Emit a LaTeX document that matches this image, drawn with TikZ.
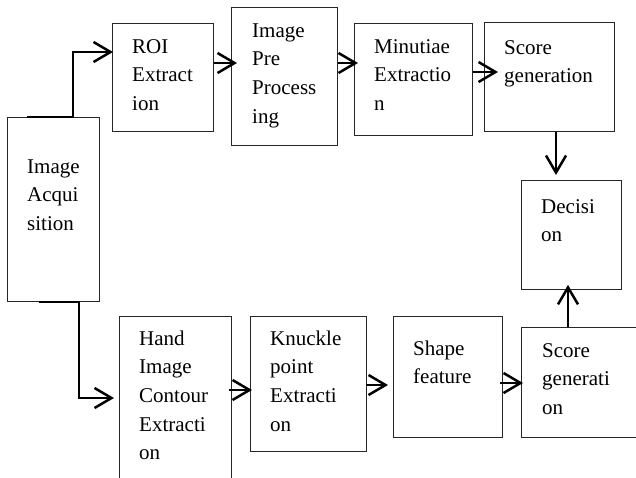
\documentclass[tikz,border=0pt]{standalone}
\usepackage{fontspec}
\setmainfont{Liberation Serif}
\usetikzlibrary{arrows.meta,calc}
\newcommand\boxtext[1]{\begin{tabular}[t]{@{}l@{}}#1\end{tabular}}
\begin{document}
\begin{tikzpicture}[x=1pt,y=-1pt,
  bx/.style={draw=black!85, line width=0.9pt, inner sep=0pt, anchor=north west},
  txt/.style={inner sep=0pt, anchor=base west, font=\fontsize{21}{28.7}\selectfont},
  con/.style={line width=2.5pt, -{Straight Barb[length=17pt,width=20pt]}}]
\useasboundingbox (0,0) rectangle (636,477);
\clip (0,0) rectangle (636,477);
\fill[white] (0,0) rectangle (636,477);
% boxes
\node[bx, minimum width=92pt, minimum height=184pt] (acq) at (7,117) {};
\node[bx, minimum width=101pt, minimum height=108pt] (roi) at (112,23) {};
\node[bx, minimum width=106pt, minimum height=138pt] (pre) at (231,7) {};
\node[bx, minimum width=118pt, minimum height=112pt] (min) at (354,23) {};
\node[bx, minimum width=130pt, minimum height=109pt] (sc1) at (484,22) {};
\node[bx, minimum width=100pt, minimum height=109pt] (dec) at (521,180) {};
\node[bx, minimum width=112pt, minimum height=200pt] (hand) at (119,316) {};
\node[bx, minimum width=116pt, minimum height=135pt] (knu) at (250,316) {};
\node[bx, minimum width=109pt, minimum height=121pt] (shp) at (393,316) {};
\node[bx, minimum width=140pt, minimum height=110pt] (sc2) at (521,327) {};
% texts
{\setlength{\tabcolsep}{0pt}\renewcommand{\arraystretch}{1}
\node[txt] (acqT) at ($(acq.north west)+(20,56)$) {\boxtext{Image\\Acqui\\sition}};
\node[txt] (roiT) at ($(roi.north west)+(20,30)$) {\boxtext{ROI\\Extract\\ion}};
\node[txt] (preT) at ($(pre.north west)+(21,30)$) {\boxtext{Image\\Pre\\Process\\ing}};
\node[txt] (minT) at ($(min.north west)+(20,30)$) {\boxtext{Minutiae\\Extractio\\n}};
\node[txt] (sc1T) at ($(sc1.north west)+(20,32)$) {\boxtext{Score\\generation}};
\node[txt] (decT) at ($(dec.north west)+(20,33)$) {\boxtext{Decisi\\on}};
\node[txt] (handT) at ($(hand.north west)+(20,29)$) {\boxtext{Hand\\Image\\Contour\\Extracti\\on}};
\node[txt] (knuT) at ($(knu.north west)+(20,29)$) {\boxtext{Knuckle\\point\\Extracti\\on}};
\node[txt] (shpT) at ($(shp.north west)+(20,39)$) {\boxtext{Shape\\feature}};
\node[txt] (sc2T) at ($(sc2.north west)+(21,30)$) {\boxtext{Score\\generati\\on}};
}
% connectors
\draw[con] ($(acq.north west)+(20,0)$) -- ++(46,0) |- ($(roi.north west)+(1,29)$);
\draw[con] ($(acq.south west)+(32,0)$) -- ++(40,0) |- ($(hand.north west)+(-5,82)$);
\draw[con] ($(roi.north east)+(0,40)$) -- ($(pre.north west)+(6,56)$);
\draw[con] ($(pre.north east)+(0,56)$) -- ($(min.north west)+(4,40)$);
\draw[con] ($(min.north east)+(0,49)$) -- ($(sc1.north west)+(14,50)$);
\draw[con] ($(sc1.south west)+(72,0)$) -- ($(dec.north west)+(35,-5)$);
\draw[con] ($(hand.north east)+(-3,74)$) -- ($(knu.north west)+(2,74)$);
\draw[con] ($(knu.north east)+(-1,69)$) -- ($(shp.north west)+(-5,69)$);
\draw[con] ($(shp.north east)+(-3,67)$) -- ($(sc2.north west)+(2,56)$);
\draw[con] ($(sc2.north west)+(47,0)$) -- ($(dec.south west)+(47,-5)$);
\end{tikzpicture}
\end{document}
